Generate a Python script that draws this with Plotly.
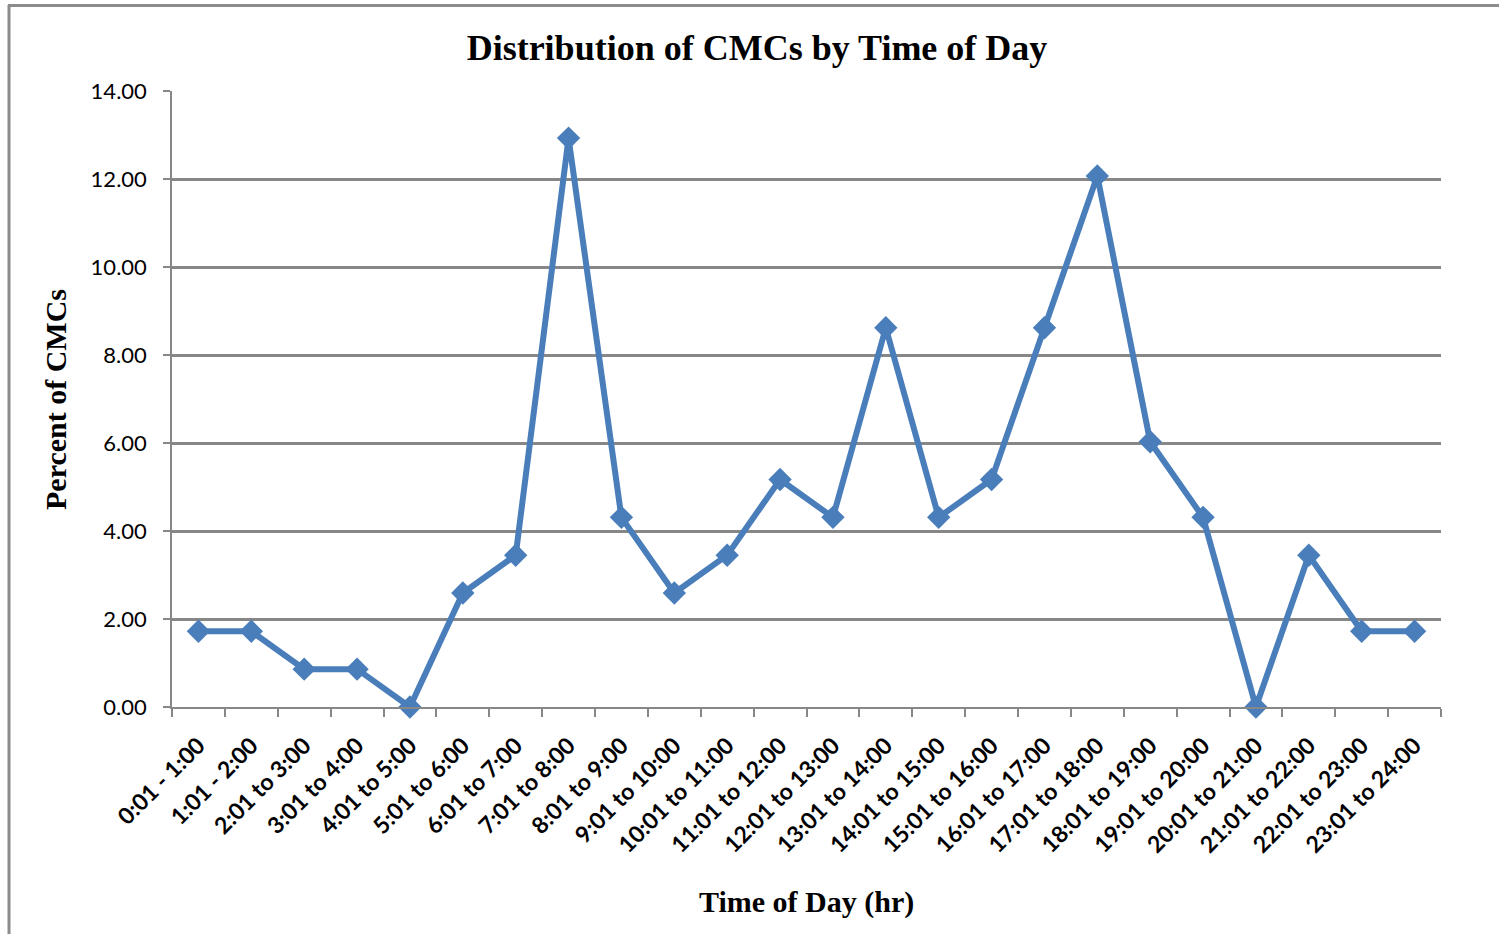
import plotly.graph_objects as go

categories = ["0:01 - 1:00", "1:01 - 2:00", "2:01 to 3:00", "3:01 to 4:00", "4:01 to 5:00",
              "5:01 to 6:00", "6:01 to 7:00", "7:01 to 8:00", "8:01 to 9:00", "9:01 to 10:00",
              "10:01 to 11:00", "11:01 to 12:00", "12:01 to 13:00", "13:01 to 14:00",
              "14:01 to 15:00", "15:01 to 16:00", "16:01 to 17:00", "17:01 to 18:00",
              "18:01 to 19:00", "19:01 to 20:00", "20:01 to 21:00", "21:01 to 22:00",
              "22:01 to 23:00", "23:01 to 24:00"]
percent = [1.72, 1.72, 0.86, 0.86, 0.00, 2.59, 3.45, 12.93, 4.31, 2.59, 3.45, 5.17,
           4.31, 8.62, 4.31, 5.17, 8.62, 12.07, 6.03, 4.31, 0.00, 3.45, 1.72, 1.72]
y_ticks = [0, 2, 4, 6, 8, 10, 12, 14]

LINE = "#4A7EBB"
GRID = "#878787"

fig = go.Figure()
fig.add_trace(go.Scatter(
    x=categories, y=percent, mode="lines+markers",
    line=dict(color=LINE, width=6),
    marker=dict(symbol="diamond", size=18, color=LINE),
    cliponaxis=False, showlegend=False,
))

W, H = 1499, 934
L, R, T, B = 172, 1441, 91, 707

fig.update_layout(
    width=W, height=H,
    margin=dict(l=L, r=W - R, t=T, b=H - B, autoexpand=False),
    paper_bgcolor="white", plot_bgcolor="white",
    title=dict(text="<b>Distribution of CMCs by Time of Day</b>",
               x=757 / W, xref="container", xanchor="center",
               y=1 - 47 / H, yref="container", yanchor="middle",
               font=dict(family="Liberation Serif", size=36, color="black")),
    xaxis=dict(
        type="category", tickson="boundaries", range=[-0.5, 23.5],
        tickvals=categories, ticktext=[f"<b>{c}</b>" for c in categories],
        showgrid=False, showline=True, linecolor=GRID, linewidth=2,
        ticks="outside", ticklen=8, tickcolor=GRID, tickwidth=2,
        tickangle=-45, ticklabelstandoff=14,
        tickfont=dict(family="Lato", size=23, color="black", weight="bold"),
    ),
    yaxis=dict(
        range=[0, 14], tickvals=y_ticks, ticktext=[f"{v:.2f}" for v in y_ticks],
        showgrid=True, gridcolor=GRID, gridwidth=2.5,
        showline=True, linecolor=GRID, linewidth=1.5,
        ticks="outside", ticklen=7, tickcolor=GRID, tickwidth=2,
        zeroline=False,
        tickfont=dict(family="Lato", size=22, color="black"),
        ticklabelstandoff=12,
    ),
    annotations=[
        dict(text="<b>Time of Day (hr)</b>", x=0.5, xref="paper",
             y=-(902 - B) / (B - T), yref="paper", yanchor="middle", showarrow=False,
             font=dict(family="Liberation Serif", size=30, color="black")),
        dict(text="<b>Percent of CMCs</b>", x=(55 - L) / (R - L), xref="paper",
             xanchor="center", y=(B - 400) / (B - T), yref="paper", yanchor="middle",
             textangle=-90, showarrow=False,
             font=dict(family="Liberation Serif", size=30, color="black")),
    ],
    shapes=[
        dict(type="line", xref="paper", yref="paper",
             x0=(9 - L) / (R - L), x1=(9 - L) / (R - L),
             y0=(B - 5) / (B - T), y1=(B - H - 5) / (B - T),
             line=dict(color="#8C8C8C", width=3)),
        dict(type="line", xref="paper", yref="paper",
             x0=(8 - L) / (R - L), x1=(W + 5 - L) / (R - L),
             y0=(B - 5.5) / (B - T), y1=(B - 5.5) / (B - T),
             line=dict(color="#8C8C8C", width=3)),
    ],
)

fig.write_html("out.html", config={"displayModeBar": False},
               post_script="document.body.style.margin='0';")
